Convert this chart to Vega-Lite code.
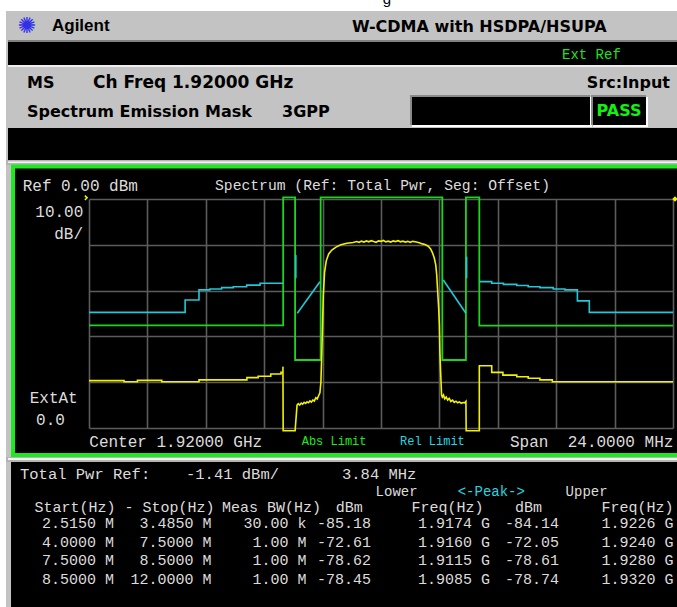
{
  "$schema": "https://vega.github.io/schema/vega-lite/v6.json",
  "width": 584,
  "height": 229,
  "autosize": {"type": "none"},
  "padding": {"left": 89, "top": 199, "right": 4, "bottom": 179},
  "background": "#000000",
  "config": {
    "view": {"stroke": null},
    "axis": {"labels": false, "ticks": false, "domain": false, "titleOpacity": 0, "grid": true, "gridColor": "#5c5c5c", "gridWidth": 1.6},
    "text": {"font": "Liberation Mono", "baseline": "middle"}
  },
  "datasets": {
    "spec": [
      {"f": 1908.00, "p": -79.3}, {"f": 1909.44, "p": -79.3}, {"f": 1909.44, "p": -79.8}, {"f": 1909.99, "p": -79.8},
      {"f": 1909.99, "p": -79.2}, {"f": 1910.99, "p": -79.2}, {"f": 1910.99, "p": -79.8}, {"f": 1912.52, "p": -79.8},
      {"f": 1912.52, "p": -79.0}, {"f": 1914.49, "p": -79.0}, {"f": 1914.49, "p": -78.0}, {"f": 1914.95, "p": -78.0},
      {"f": 1914.95, "p": -77.4}, {"f": 1915.47, "p": -77.4}, {"f": 1915.47, "p": -76.4}, {"f": 1915.89, "p": -76.4},
      {"f": 1915.89, "p": -75.7}, {"f": 1915.97, "p": -75.7}, {"f": 1915.97, "p": -73.2}, {"f": 1915.98, "p": -101.2},
      {"f": 1916.47, "p": -101.2}, {"f": 1916.55, "p": -90.0}, {"f": 1916.60, "p": -89.4}, {"f": 1916.66, "p": -90.0},
      {"f": 1916.72, "p": -89.1}, {"f": 1916.78, "p": -89.6}, {"f": 1916.84, "p": -88.8}, {"f": 1916.90, "p": -89.3},
      {"f": 1916.96, "p": -88.6}, {"f": 1917.02, "p": -89.0}, {"f": 1917.08, "p": -88.2}, {"f": 1917.14, "p": -88.7},
      {"f": 1917.20, "p": -87.8}, {"f": 1917.26, "p": -88.2}, {"f": 1917.32, "p": -86.8}, {"f": 1917.38, "p": -87.3},
      {"f": 1917.44, "p": -85.8}, {"f": 1917.49, "p": -84.6}, {"f": 1917.53, "p": -80.0}, {"f": 1917.56, "p": -70.0},
      {"f": 1917.59, "p": -58.0}, {"f": 1917.63, "p": -42.0}, {"f": 1917.68, "p": -32.0}, {"f": 1917.75, "p": -27.0},
      {"f": 1917.85, "p": -24.0}, {"f": 1917.98, "p": -22.3}, {"f": 1918.15, "p": -21.0}, {"f": 1918.35, "p": -20.0},
      {"f": 1918.60, "p": -19.3}, {"f": 1918.85, "p": -19.0}, {"f": 1919.00, "p": -18.6}, {"f": 1919.10, "p": -18.9},
      {"f": 1919.20, "p": -18.4}, {"f": 1919.30, "p": -18.8}, {"f": 1919.40, "p": -18.3}, {"f": 1919.50, "p": -18.7},
      {"f": 1919.60, "p": -18.2}, {"f": 1919.70, "p": -18.6}, {"f": 1919.80, "p": -18.9}, {"f": 1919.90, "p": -18.3},
      {"f": 1920.00, "p": -18.5}, {"f": 1920.10, "p": -18.1}, {"f": 1920.20, "p": -18.7}, {"f": 1920.30, "p": -18.4},
      {"f": 1920.40, "p": -18.8}, {"f": 1920.50, "p": -18.3}, {"f": 1920.60, "p": -18.6}, {"f": 1920.70, "p": -18.2},
      {"f": 1920.80, "p": -18.7}, {"f": 1920.90, "p": -18.4}, {"f": 1921.00, "p": -18.8}, {"f": 1921.10, "p": -18.5},
      {"f": 1921.20, "p": -18.9}, {"f": 1921.30, "p": -18.5}, {"f": 1921.40, "p": -18.7}, {"f": 1921.50, "p": -18.9},
      {"f": 1921.60, "p": -19.2}, {"f": 1921.70, "p": -19.6}, {"f": 1921.81, "p": -19.9}, {"f": 1921.94, "p": -20.6},
      {"f": 1922.04, "p": -21.8}, {"f": 1922.12, "p": -23.6}, {"f": 1922.19, "p": -25.8}, {"f": 1922.25, "p": -28.8},
      {"f": 1922.29, "p": -33.2}, {"f": 1922.33, "p": -40.5}, {"f": 1922.37, "p": -47.7}, {"f": 1922.40, "p": -55.0},
      {"f": 1922.42, "p": -66.7}, {"f": 1922.45, "p": -75.4}, {"f": 1922.49, "p": -85.6}, {"f": 1922.52, "p": -86.5},
      {"f": 1922.57, "p": -85.6}, {"f": 1922.62, "p": -87.3}, {"f": 1922.68, "p": -86.5}, {"f": 1922.74, "p": -87.8},
      {"f": 1922.80, "p": -87.1}, {"f": 1922.87, "p": -88.4}, {"f": 1922.94, "p": -87.8}, {"f": 1923.01, "p": -88.8},
      {"f": 1923.08, "p": -88.3}, {"f": 1923.15, "p": -89.0}, {"f": 1923.22, "p": -88.6}, {"f": 1923.30, "p": -89.2},
      {"f": 1923.37, "p": -88.9}, {"f": 1923.44, "p": -89.0}, {"f": 1923.49, "p": -88.4}, {"f": 1923.50, "p": -101.2},
      {"f": 1924.04, "p": -101.2}, {"f": 1924.04, "p": -72.8}, {"f": 1924.55, "p": -72.8}, {"f": 1924.55, "p": -75.7},
      {"f": 1925.01, "p": -75.7}, {"f": 1925.01, "p": -76.9}, {"f": 1925.58, "p": -76.9}, {"f": 1925.58, "p": -77.6},
      {"f": 1926.05, "p": -77.6}, {"f": 1926.05, "p": -78.3}, {"f": 1926.53, "p": -78.3}, {"f": 1926.53, "p": -79.0},
      {"f": 1927.04, "p": -79.0}, {"f": 1927.04, "p": -79.8}, {"f": 1932.00, "p": -79.8}
    ],
    "abs": [
      {"f": 1908.00, "p": -55.2}, {"f": 1915.98, "p": -55.2}, {"f": 1915.98, "p": 0.74}, {"f": 1916.47, "p": 0.74},
      {"f": 1916.47, "p": -70.3}, {"f": 1917.52, "p": -70.3}, {"f": 1917.52, "p": 0.74}, {"f": 1922.52, "p": 0.74},
      {"f": 1922.52, "p": -70.3}, {"f": 1923.49, "p": -70.3}, {"f": 1923.49, "p": 0.74}, {"f": 1924.04, "p": 0.74},
      {"f": 1924.04, "p": -55.3}, {"f": 1932.00, "p": -55.3}
    ],
    "rel": [
      {"seg": "L1", "f": 1908.00, "p": -49.5}, {"seg": "L1", "f": 1911.95, "p": -49.5}, {"seg": "L1", "f": 1911.95, "p": -44.1},
      {"seg": "L1", "f": 1912.52, "p": -44.1}, {"seg": "L1", "f": 1912.52, "p": -39.7}, {"seg": "L1", "f": 1912.97, "p": -39.7},
      {"seg": "L1", "f": 1912.97, "p": -39.3}, {"seg": "L1", "f": 1913.45, "p": -39.3}, {"seg": "L1", "f": 1913.45, "p": -38.7},
      {"seg": "L1", "f": 1913.93, "p": -38.7}, {"seg": "L1", "f": 1913.93, "p": -38.3}, {"seg": "L1", "f": 1914.48, "p": -38.3},
      {"seg": "L1", "f": 1914.48, "p": -37.6}, {"seg": "L1", "f": 1915.03, "p": -37.6}, {"seg": "L1", "f": 1915.03, "p": -36.8},
      {"seg": "L1", "f": 1915.98, "p": -36.8},
      {"seg": "L2", "f": 1916.50, "p": -24.5}, {"seg": "L2", "f": 1916.50, "p": -34.6},
      {"seg": "L3", "f": 1916.56, "p": -49.9}, {"seg": "L3", "f": 1917.49, "p": -36.1},
      {"seg": "R1", "f": 1922.56, "p": -35.4}, {"seg": "R1", "f": 1923.49, "p": -49.9},
      {"seg": "R2", "f": 1923.52, "p": -25.2}, {"seg": "R2", "f": 1923.52, "p": -34.6},
      {"seg": "R3", "f": 1924.04, "p": -36.1}, {"seg": "R3", "f": 1924.55, "p": -36.1}, {"seg": "R3", "f": 1924.55, "p": -36.8},
      {"seg": "R3", "f": 1925.03, "p": -36.8}, {"seg": "R3", "f": 1925.03, "p": -37.3}, {"seg": "R3", "f": 1925.58, "p": -37.3},
      {"seg": "R3", "f": 1925.58, "p": -37.8}, {"seg": "R3", "f": 1926.05, "p": -37.8}, {"seg": "R3", "f": 1926.05, "p": -38.3},
      {"seg": "R3", "f": 1926.53, "p": -38.3}, {"seg": "R3", "f": 1926.53, "p": -38.7}, {"seg": "R3", "f": 1927.08, "p": -38.7},
      {"seg": "R3", "f": 1927.08, "p": -39.3}, {"seg": "R3", "f": 1927.56, "p": -39.3}, {"seg": "R3", "f": 1927.56, "p": -39.7},
      {"seg": "R3", "f": 1928.07, "p": -39.7}, {"seg": "R3", "f": 1928.07, "p": -44.5}, {"seg": "R3", "f": 1928.56, "p": -44.5},
      {"seg": "R3", "f": 1928.56, "p": -49.5}, {"seg": "R3", "f": 1932.00, "p": -49.5}
    ],
    "rows": [
      {"seg": 1, "start": "2.5150 M", "stop": "3.4850 M", "bw": "30.00 k", "dbm": "-85.18", "lf": "1.9174 G", "pk": "-84.14", "uf": "1.9226 G"},
      {"seg": 2, "start": "4.0000 M", "stop": "7.5000 M", "bw": "1.00 M", "dbm": "-72.61", "lf": "1.9160 G", "pk": "-72.05", "uf": "1.9240 G"},
      {"seg": 3, "start": "7.5000 M", "stop": "8.5000 M", "bw": "1.00 M", "dbm": "-78.62", "lf": "1.9115 G", "pk": "-78.61", "uf": "1.9280 G"},
      {"seg": 4, "start": "8.5000 M", "stop": "12.0000 M", "bw": "1.00 M", "dbm": "-78.45", "lf": "1.9085 G", "pk": "-78.74", "uf": "1.9320 G"}
    ]
  },
  "resolve": {"scale": {"y": "independent"}},
  "layer": [
    {
      "layer": [
        {
          "data": {"name": "abs"},
          "mark": {"type": "line", "color": "#1ed41e", "strokeWidth": 1.8},
          "encoding": {
            "x": {"field": "f", "type": "quantitative", "scale": {"domain": [1908, 1932], "nice": false, "zero": false}, "axis": {"values": [1908, 1910.4, 1912.8, 1915.2, 1917.6, 1920, 1922.4, 1924.8, 1927.2, 1929.6, 1932], "title": null}},
            "y": {"field": "p", "type": "quantitative", "scale": {"domain": [-100, 0], "nice": false, "zero": false}, "axis": {"values": [-100, -90, -80, -70, -60, -50, -40, -30, -20, -10, 0], "title": null}},
            "order": {"value": null}
          }
        },
        {
          "data": {"name": "rel"},
          "mark": {"type": "line", "color": "#22c8d6", "strokeWidth": 1.6},
          "encoding": {
            "x": {"field": "f", "type": "quantitative"},
            "y": {"field": "p", "type": "quantitative"},
            "detail": {"field": "seg"},
            "order": {"value": null}
          }
        },
        {
          "data": {"name": "spec"},
          "mark": {"type": "line", "color": "#f2f200", "strokeWidth": 1.6},
          "encoding": {
            "x": {"field": "f", "type": "quantitative"},
            "y": {"field": "p", "type": "quantitative"},
            "order": {"value": null}
          }
        },
        {"data": {"values": [{}]}, "mark": {"type": "rect", "color": "#ffffff"},
          "encoding": {"x": {"datum": 1903.932, "type": "quantitative"}, "x2": {"datum": 1932.699}, "y": {"datum": 91.27, "type": "quantitative"}, "y2": {"datum": 82.10}}},
        {"data": {"values": [{}]}, "mark": {"type": "rect", "color": "#ffffff"},
          "encoding": {"x": {"datum": 1903.932, "type": "quantitative"}, "x2": {"datum": 1904.589}, "y": {"datum": 91.27, "type": "quantitative"}, "y2": {"datum": -183.84}}},
        {"data": {"values": [{}]}, "mark": {"type": "text", "text": "g", "align": "center", "baseline": "alphabetic", "font": "Liberation Sans", "fontSize": 15, "fill": "#000000"},
          "encoding": {"x": {"datum": 1920.247, "type": "quantitative"}, "y": {"datum": 85.15, "type": "quantitative"}}},
        {"data": {"values": [{}]}, "mark": {"type": "rect", "color": "#c3c3c3"},
          "encoding": {"x": {"datum": 1904.589, "type": "quantitative"}, "x2": {"datum": 1932.699}, "y": {"datum": 82.10, "type": "quantitative"}, "y2": {"datum": 68.99}}},
        {"data": {"values": [{}]}, "mark": {"type": "rect", "color": "#808080"},
          "encoding": {"x": {"datum": 1904.671, "type": "quantitative"}, "x2": {"datum": 1932.699}, "y": {"datum": 69.43, "type": "quantitative"}, "y2": {"datum": 68.56}}},
        {"data": {"values": [{}]}, "mark": {"type": "rect", "color": "#c3c3c3"},
          "encoding": {"x": {"datum": 1904.589, "type": "quantitative"}, "x2": {"datum": 1932.699}, "y": {"datum": 58.52, "type": "quantitative"}, "y2": {"datum": 31.00}}},
        {"data": {"values": [{}]}, "mark": {"type": "rect", "color": "#eeeeee"},
          "encoding": {"x": {"datum": 1904.671, "type": "quantitative"}, "x2": {"datum": 1932.699}, "y": {"datum": 58.52, "type": "quantitative"}, "y2": {"datum": 57.64}}},
        {"data": {"values": [{}]}, "mark": {"type": "rect", "color": "#c3c3c3"},
          "encoding": {"x": {"datum": 1904.589, "type": "quantitative"}, "x2": {"datum": 1904.671}, "y": {"datum": 82.10, "type": "quantitative"}, "y2": {"datum": -183.84}}},
        {"data": {"values": [{}]}, "mark": {"type": "rect", "color": "#c3c3c3"},
          "encoding": {"x": {"datum": 1904.589, "type": "quantitative"}, "x2": {"datum": 1904.795}, "y": {"datum": 17.03, "type": "quantitative"}, "y2": {"datum": -183.84}}},
        {"data": {"values": [{}]}, "mark": {"type": "rect", "color": "#b4b4b4"},
          "encoding": {"x": {"datum": 1904.589, "type": "quantitative"}, "x2": {"datum": 1932.699}, "y": {"datum": 17.03, "type": "quantitative"}, "y2": {"datum": 14.85}}},
        {"data": {"values": [{}]}, "mark": {"type": "rect", "color": "#f4f4f4"},
          "encoding": {"x": {"datum": 1904.671, "type": "quantitative"}, "x2": {"datum": 1932.699}, "y": {"datum": 16.38, "type": "quantitative"}, "y2": {"datum": 15.72}}},
        {"data": {"values": [{}]}, "mark": {"type": "rect", "color": "#b4b4b4"},
          "encoding": {"x": {"datum": 1904.589, "type": "quantitative"}, "x2": {"datum": 1932.699}, "y": {"datum": -112.66, "type": "quantitative"}, "y2": {"datum": -114.85}}},
        {"data": {"values": [{}]}, "mark": {"type": "rect", "color": "#f4f4f4"},
          "encoding": {"x": {"datum": 1904.671, "type": "quantitative"}, "x2": {"datum": 1932.699}, "y": {"datum": -113.10, "type": "quantitative"}, "y2": {"datum": -113.97}}},
        {"data": {"values": [{}]}, "mark": {"type": "rect", "fillOpacity": 0, "stroke": "#1ee81e", "strokeWidth": 4},
          "encoding": {"x": {"datum": 1904.877, "type": "quantitative"}, "x2": {"datum": 1933.110}, "y": {"datum": 14.19, "type": "quantitative"}, "y2": {"datum": -111.79}}},
        {"data": {"values": [{}]}, "mark": {"type": "rect", "color": "#8a8a8a"},
          "encoding": {"x": {"datum": 1921.192, "type": "quantitative"}, "x2": {"datum": 1928.589}, "y": {"datum": 45.41, "type": "quantitative"}, "y2": {"datum": 32.31}}},
        {"data": {"values": [{}]}, "mark": {"type": "rect", "color": "#ffffff"},
          "encoding": {"x": {"datum": 1921.274, "type": "quantitative"}, "x2": {"datum": 1928.671}, "y": {"datum": 44.54, "type": "quantitative"}, "y2": {"datum": 31.44}}},
        {"data": {"values": [{}]}, "mark": {"type": "rect", "color": "#000000"},
          "encoding": {"x": {"datum": 1921.274, "type": "quantitative"}, "x2": {"datum": 1928.589}, "y": {"datum": 44.54, "type": "quantitative"}, "y2": {"datum": 32.31}}},
        {"data": {"values": [{}]}, "mark": {"type": "rect", "color": "#8a8a8a"},
          "encoding": {"x": {"datum": 1928.630, "type": "quantitative"}, "x2": {"datum": 1930.890}, "y": {"datum": 45.41, "type": "quantitative"}, "y2": {"datum": 32.31}}},
        {"data": {"values": [{}]}, "mark": {"type": "rect", "color": "#ffffff"},
          "encoding": {"x": {"datum": 1928.712, "type": "quantitative"}, "x2": {"datum": 1930.973}, "y": {"datum": 44.54, "type": "quantitative"}, "y2": {"datum": 31.44}}},
        {"data": {"values": [{}]}, "mark": {"type": "rect", "color": "#000000"},
          "encoding": {"x": {"datum": 1928.712, "type": "quantitative"}, "x2": {"datum": 1930.890}, "y": {"datum": 44.54, "type": "quantitative"}, "y2": {"datum": 32.31}}},
        {"data": {"values": [{}]}, "mark": {"type": "point", "shape": "diamond", "filled": true, "size": 30, "color": "#f2f200", "opacity": 1},
          "encoding": {"x": {"datum": 1932.082, "type": "quantitative"}, "y": {"datum": 0, "type": "quantitative"}}},
        {"data": {"values": [{}]}, "mark": {"type": "point", "shape": "M-0.5,-1L0.5,0L-0.5,1", "filled": false, "size": 20, "stroke": "#f2f200", "strokeWidth": 1.5, "opacity": 1},
          "encoding": {"x": {"datum": 1907.877, "type": "quantitative"}, "y": {"datum": 0.5, "type": "quantitative"}}},
        {"data": {"values": [{}]}, "mark": {"type": "text", "text": "✺", "align": "center", "font": "DejaVu Sans", "fontSize": 22, "fill": "#3030e8"},
          "encoding": {"x": {"datum": 1905.452, "type": "quantitative"}, "y": {"datum": 75.33, "type": "quantitative"}}},
        {"data": {"values": [{}]}, "mark": {"type": "text", "text": "Agilent", "align": "left", "font": "Liberation Sans", "fontWeight": "bold", "fontSize": 17, "fill": "#000000"},
          "encoding": {"x": {"datum": 1906.479, "type": "quantitative"}, "y": {"datum": 75.55, "type": "quantitative"}}},
        {"data": {"values": [{}]}, "mark": {"type": "text", "text": "W-CDMA with HSDPA/HSUPA", "align": "left", "font": "DejaVu Sans", "fontWeight": "bold", "fontSize": 16, "fill": "#000000"},
          "encoding": {"x": {"datum": 1918.808, "type": "quantitative"}, "y": {"datum": 75.11, "type": "quantitative"}}},
        {"data": {"values": [{}]}, "mark": {"type": "text", "text": "Ext Ref", "align": "left", "fontSize": 14, "fill": "#22e022"},
          "encoding": {"x": {"datum": 1927.438, "type": "quantitative"}, "y": {"datum": 62.88, "type": "quantitative"}}},
        {"data": {"values": [{}]}, "mark": {"type": "text", "text": "MS", "align": "left", "font": "DejaVu Sans", "fontWeight": "bold", "fontSize": 16, "fill": "#000000"},
          "encoding": {"x": {"datum": 1905.452, "type": "quantitative"}, "y": {"datum": 50.66, "type": "quantitative"}}},
        {"data": {"values": [{}]}, "mark": {"type": "text", "text": "Ch Freq 1.92000 GHz", "align": "left", "font": "DejaVu Sans", "fontWeight": "bold", "fontSize": 17, "fill": "#000000"},
          "encoding": {"x": {"datum": 1908.164, "type": "quantitative"}, "y": {"datum": 50.66, "type": "quantitative"}}},
        {"data": {"values": [{}]}, "mark": {"type": "text", "text": "Src:Input", "align": "right", "font": "DejaVu Sans", "fontWeight": "bold", "fontSize": 16, "fill": "#000000"},
          "encoding": {"x": {"datum": 1931.877, "type": "quantitative"}, "y": {"datum": 50.66, "type": "quantitative"}}},
        {"data": {"values": [{}]}, "mark": {"type": "text", "text": "Spectrum Emission Mask", "align": "left", "font": "DejaVu Sans", "fontWeight": "bold", "fontSize": 16, "fill": "#000000"},
          "encoding": {"x": {"datum": 1905.452, "type": "quantitative"}, "y": {"datum": 37.99, "type": "quantitative"}}},
        {"data": {"values": [{}]}, "mark": {"type": "text", "text": "3GPP", "align": "left", "font": "DejaVu Sans", "fontWeight": "bold", "fontSize": 16, "fill": "#000000"},
          "encoding": {"x": {"datum": 1915.932, "type": "quantitative"}, "y": {"datum": 37.99, "type": "quantitative"}}},
        {"data": {"values": [{}]}, "mark": {"type": "text", "text": "PASS", "align": "center", "font": "DejaVu Sans", "fontWeight": "bold", "fontSize": 16, "fill": "#14f014"},
          "encoding": {"x": {"datum": 1929.781, "type": "quantitative"}, "y": {"datum": 38.43, "type": "quantitative"}}},
        {"data": {"values": [{}]}, "mark": {"type": "text", "text": "Ref 0.00 dBm", "align": "left", "fontSize": 16, "fill": "#dcdcdc"},
          "encoding": {"x": {"datum": 1905.275, "type": "quantitative"}, "y": {"datum": 5.81, "type": "quantitative"}}},
        {"data": {"values": [{}]}, "mark": {"type": "text", "text": "Spectrum (Ref: Total Pwr, Seg: Offset)", "align": "center", "fontSize": 14.7, "fill": "#dcdcdc"},
          "encoding": {"x": {"datum": 1920.062, "type": "quantitative"}, "y": {"datum": 5.81, "type": "quantitative"}}},
        {"data": {"values": [{}]}, "mark": {"type": "text", "text": "10.00", "align": "right", "fontSize": 16, "fill": "#dcdcdc"},
          "encoding": {"x": {"datum": 1907.766, "type": "quantitative"}, "y": {"datum": -5.55, "type": "quantitative"}}},
        {"data": {"values": [{}]}, "mark": {"type": "text", "text": "dB/", "align": "right", "fontSize": 16, "fill": "#dcdcdc"},
          "encoding": {"x": {"datum": 1907.753, "type": "quantitative"}, "y": {"datum": -15.28, "type": "quantitative"}}},
        {"data": {"values": [{}]}, "mark": {"type": "text", "text": "ExtAt", "align": "center", "fontSize": 16, "fill": "#dcdcdc"},
          "encoding": {"x": {"datum": 1906.549, "type": "quantitative"}, "y": {"datum": -87.03, "type": "quantitative"}}},
        {"data": {"values": [{}]}, "mark": {"type": "text", "text": "0.0", "align": "center", "fontSize": 16, "fill": "#dcdcdc"},
          "encoding": {"x": {"datum": 1906.418, "type": "quantitative"}, "y": {"datum": -96.51, "type": "quantitative"}}},
        {"data": {"values": [{}]}, "mark": {"type": "text", "text": "Center 1.92000 GHz", "align": "left", "fontSize": 16, "fill": "#dcdcdc"},
          "encoding": {"x": {"datum": 1908.012, "type": "quantitative"}, "y": {"datum": -105.98, "type": "quantitative"}}},
        {"data": {"values": [{}]}, "mark": {"type": "text", "text": "Abs Limit", "align": "left", "fontSize": 12, "fill": "#1ee81e"},
          "encoding": {"x": {"datum": 1916.741, "type": "quantitative"}, "y": {"datum": -105.68, "type": "quantitative"}}},
        {"data": {"values": [{}]}, "mark": {"type": "text", "text": "Rel Limit", "align": "left", "fontSize": 12, "fill": "#22d8e0"},
          "encoding": {"x": {"datum": 1920.781, "type": "quantitative"}, "y": {"datum": -105.68, "type": "quantitative"}}},
        {"data": {"values": [{}]}, "mark": {"type": "text", "text": "Span", "align": "left", "fontSize": 16, "fill": "#dcdcdc"},
          "encoding": {"x": {"datum": 1925.301, "type": "quantitative"}, "y": {"datum": -105.98, "type": "quantitative"}}},
        {"data": {"values": [{}]}, "mark": {"type": "text", "text": "24.0000 MHz", "align": "right", "fontSize": 16, "fill": "#dcdcdc"},
          "encoding": {"x": {"datum": 1932.014, "type": "quantitative"}, "y": {"datum": -105.98, "type": "quantitative"}}},
        {"data": {"values": [{}]}, "mark": {"type": "text", "text": "Total Pwr Ref:", "align": "left", "fontSize": 15.5, "fill": "#dcdcdc"},
          "encoding": {"x": {"datum": 1905.164, "type": "quantitative"}, "y": {"datum": -120.09, "type": "quantitative"}}},
        {"data": {"values": [{}]}, "mark": {"type": "text", "text": "-1.41 dBm/", "align": "left", "fontSize": 15.5, "fill": "#dcdcdc"},
          "encoding": {"x": {"datum": 1911.986, "type": "quantitative"}, "y": {"datum": -120.09, "type": "quantitative"}}},
        {"data": {"values": [{}]}, "mark": {"type": "text", "text": "3.84 MHz", "align": "left", "fontSize": 15.5, "fill": "#dcdcdc"},
          "encoding": {"x": {"datum": 1918.397, "type": "quantitative"}, "y": {"datum": -120.09, "type": "quantitative"}}},
        {"data": {"values": [{}]}, "mark": {"type": "text", "text": "Lower", "align": "left", "fontSize": 14, "fill": "#dcdcdc"},
          "encoding": {"x": {"datum": 1919.778, "type": "quantitative"}, "y": {"datum": -127.95, "type": "quantitative"}}},
        {"data": {"values": [{}]}, "mark": {"type": "text", "text": "<-Peak->", "align": "left", "fontSize": 14, "fill": "#22d8e0"},
          "encoding": {"x": {"datum": 1923.152, "type": "quantitative"}, "y": {"datum": -127.95, "type": "quantitative"}}},
        {"data": {"values": [{}]}, "mark": {"type": "text", "text": "Upper", "align": "left", "fontSize": 14, "fill": "#dcdcdc"},
          "encoding": {"x": {"datum": 1927.586, "type": "quantitative"}, "y": {"datum": -127.95, "type": "quantitative"}}},
        {"data": {"values": [{}]}, "mark": {"type": "text", "text": "Start(Hz) - Stop(Hz)", "align": "left", "fontSize": 15, "fill": "#dcdcdc"},
          "encoding": {"x": {"datum": 1905.760, "type": "quantitative"}, "y": {"datum": -134.50, "type": "quantitative"}}},
        {"data": {"values": [{}]}, "mark": {"type": "text", "text": "Meas BW(Hz)", "align": "left", "fontSize": 15, "fill": "#dcdcdc"},
          "encoding": {"x": {"datum": 1913.466, "type": "quantitative"}, "y": {"datum": -134.50, "type": "quantitative"}}},
        {"data": {"values": [{}]}, "mark": {"type": "text", "text": "dBm", "align": "right", "fontSize": 15, "fill": "#dcdcdc"},
          "encoding": {"x": {"datum": 1919.248, "type": "quantitative"}, "y": {"datum": -134.50, "type": "quantitative"}}},
        {"data": {"values": [{}]}, "mark": {"type": "text", "text": "Freq(Hz)", "align": "right", "fontSize": 15, "fill": "#dcdcdc"},
          "encoding": {"x": {"datum": 1924.217, "type": "quantitative"}, "y": {"datum": -134.50, "type": "quantitative"}}},
        {"data": {"values": [{}]}, "mark": {"type": "text", "text": "dBm", "align": "right", "fontSize": 15, "fill": "#dcdcdc"},
          "encoding": {"x": {"datum": 1926.616, "type": "quantitative"}, "y": {"datum": -134.50, "type": "quantitative"}}},
        {"data": {"values": [{}]}, "mark": {"type": "text", "text": "Freq(Hz)", "align": "right", "fontSize": 15, "fill": "#dcdcdc"},
          "encoding": {"x": {"datum": 1932.025, "type": "quantitative"}, "y": {"datum": -134.50, "type": "quantitative"}}}
      ]
    },
    {
      "data": {"name": "rows"},
      "encoding": {
        "y": {"field": "seg", "type": "quantitative", "scale": {"domain": [-16.514, -4.136], "reverse": true, "nice": false, "zero": false}, "axis": null}
      },
      "layer": [
        {"mark": {"type": "text", "align": "right", "fontSize": 15, "fill": "#dcdcdc"}, "encoding": {"x": {"datum": 1909.027, "type": "quantitative"}, "text": {"field": "start"}}},
        {"mark": {"type": "text", "align": "right", "fontSize": 15, "fill": "#dcdcdc"}, "encoding": {"x": {"datum": 1913.038, "type": "quantitative"}, "text": {"field": "stop"}}},
        {"mark": {"type": "text", "align": "right", "fontSize": 15, "fill": "#dcdcdc"}, "encoding": {"x": {"datum": 1916.943, "type": "quantitative"}, "text": {"field": "bw"}}},
        {"mark": {"type": "text", "align": "right", "fontSize": 15, "fill": "#dcdcdc"}, "encoding": {"x": {"datum": 1919.589, "type": "quantitative"}, "text": {"field": "dbm"}}},
        {"mark": {"type": "text", "align": "right", "fontSize": 15, "fill": "#dcdcdc"}, "encoding": {"x": {"datum": 1924.479, "type": "quantitative"}, "text": {"field": "lf"}}},
        {"mark": {"type": "text", "align": "right", "fontSize": 15, "fill": "#dcdcdc"}, "encoding": {"x": {"datum": 1927.315, "type": "quantitative"}, "text": {"field": "pk"}}},
        {"mark": {"type": "text", "align": "right", "fontSize": 15, "fill": "#dcdcdc"}, "encoding": {"x": {"datum": 1932.021, "type": "quantitative"}, "text": {"field": "uf"}}}
      ]
    }
  ]
}
